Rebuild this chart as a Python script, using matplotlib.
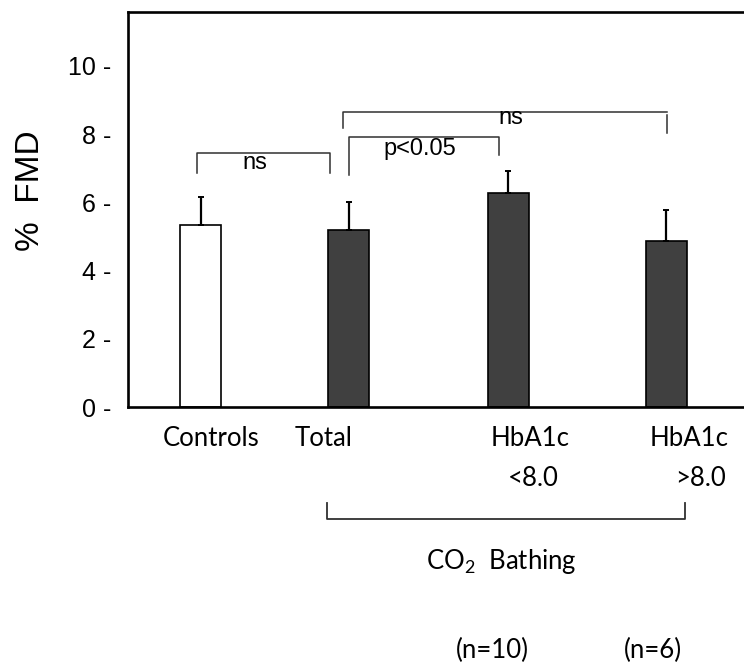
import matplotlib.pyplot as plt

# values
groups = ['Controls', 'Total', 'HbA1c', 'HbA1c']
sub_labels = ['', '', '<8.0', '>8.0']
n_labels = ['', '', '(n=10)', '(n=6)']
fmd = [5.34, 5.19, 6.28, 4.87]
sem = [0.82, 0.82, 0.64, 0.91]
bar_colors = ['white', '#404040', '#404040', '#404040']

xpos = [0.0, 1.0, 2.08, 3.145]

plt.rcParams['font.family'] = ['Liberation Sans', 'DejaVu Sans']
plt.rcParams['mathtext.default'] = 'regular'

fig = plt.figure(figsize=(7.44, 6.66), dpi=100)
ax = fig.add_axes([128 / 744, 1 - 407 / 666, (760 - 128) / 744, (407 - 12) / 666])

ax.bar(xpos, fmd, width=0.277, color=bar_colors, edgecolor='black', linewidth=1.2, zorder=2)
ax.errorbar(xpos, fmd, yerr=[[0] * 4, sem], fmt='none', ecolor='black',
            elinewidth=1.6, capsize=2.2, capthick=1.4, zorder=3)

ax.set_xlim(-0.49, 3.78)
ax.set_ylim(0, 11.58)
ax.set_yticks([0, 2, 4, 6, 8, 10])
ax.set_yticklabels(['0 -', '2 -', '4 -', '6 -', '8 -', '10 -'], fontsize=18)
ax.tick_params(axis='y', length=0, pad=12)
ax.set_xticks([])
for s in ax.spines.values():
    s.set_linewidth(1.9)
ax.set_ylabel('%  FMD', fontsize=24, va='center')
ax.yaxis.set_label_coords(-0.155, 0.547)

# significance brackets
bc = '#303030'
ax.plot([-0.024, -0.024, 0.875, 0.875], [6.86, 7.45, 7.45, 6.86], color=bc, lw=1.1)
ax.text(0.37, 7.16, 'ns', ha='center', va='center', fontsize=17)
ax.plot([1.003, 1.003, 2.017, 2.017], [6.80, 7.92, 7.92, 7.39], color=bc, lw=1.1)
ax.text(1.48, 7.57, 'p<0.05', ha='center', va='center', fontsize=17)
ax.plot([0.963, 0.963, 3.15], [8.18, 8.65, 8.65], color=bc, lw=1.1)
ax.plot([3.15, 3.15], [8.56, 8.04], color=bc, lw=1.1)
ax.text(2.10, 8.47, 'ns', ha='center', va='center', fontsize=17)

# category labels below the axis
lab_font = ['Lato', 'DejaVu Sans']
fs = 18.5
lab_x = [0.07, 0.834, 2.226, 3.30]
for x, g in zip(lab_x, groups):
    ax.text(x, -0.91, g, ha='center', va='center', fontsize=fs, family=lab_font, clip_on=False)
ax.text(2.248, -2.11, sub_labels[2], ha='center', va='center', fontsize=fs, family=lab_font, clip_on=False)
ax.text(3.375, -2.11, sub_labels[3], ha='center', va='center', fontsize=fs, family=lab_font, clip_on=False)

ax.plot([0.855, 0.855, 3.27, 3.27], [-2.82, -3.28, -3.28, -2.82], color=bc, lw=1.3, clip_on=False)
ax.text(2.03, -4.52, r'CO$_2$  Bathing', ha='center', va='center', fontsize=fs, family=lab_font, clip_on=False)

ax.text(1.97, -7.13, n_labels[2], ha='center', va='center', fontsize=fs, family=lab_font, clip_on=False)
ax.text(3.06, -7.13, n_labels[3], ha='center', va='center', fontsize=fs, family=lab_font, clip_on=False)

fig.savefig('out.png', dpi=100)
